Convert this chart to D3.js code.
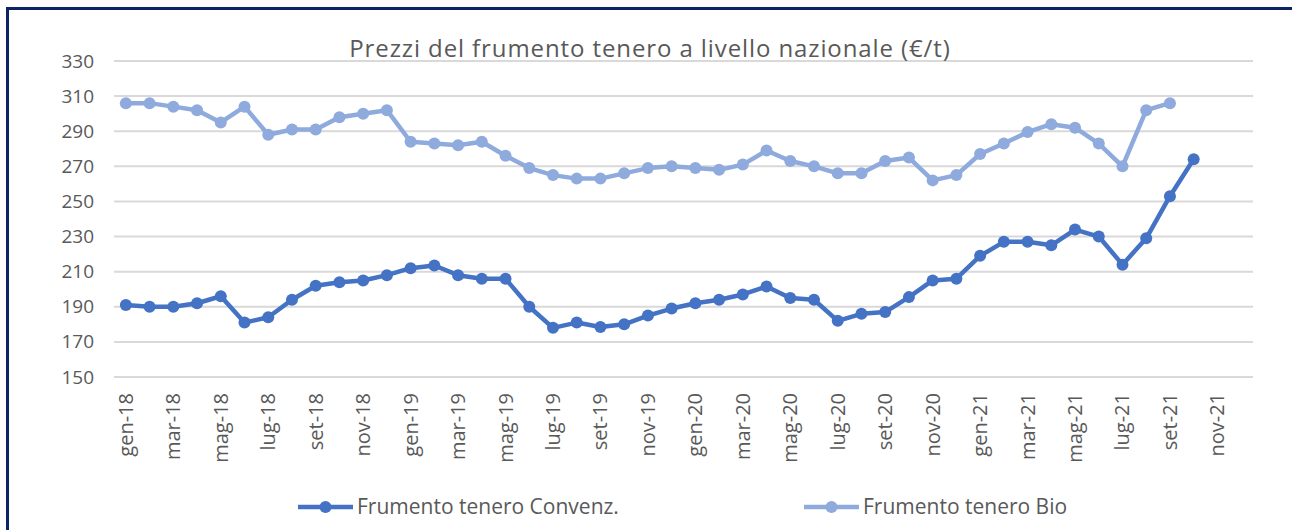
<!DOCTYPE html>
<html>
<head>
	<meta charset="utf-8">
	<title>Prezzi del frumento tenero</title>
	<script src="https://cdn.jsdelivr.net/npm/d3@7"></script>
	<style type="text/css">
		body {
			margin: 0;
			background: #ffffff;
		}
		text {
			font-family: "Open Sans", sans-serif;
			fill: #595959;
		}
	</style>
</head>
<body>
	<script type="text/javascript">
		// Months (categories) gen-18 .. dic-21
		var months = [
			"gen-18","feb-18","mar-18","apr-18","mag-18","giu-18","lug-18","ago-18","set-18","ott-18","nov-18","dic-18",
			"gen-19","feb-19","mar-19","apr-19","mag-19","giu-19","lug-19","ago-19","set-19","ott-19","nov-19","dic-19",
			"gen-20","feb-20","mar-20","apr-20","mag-20","giu-20","lug-20","ago-20","set-20","ott-20","nov-20","dic-20",
			"gen-21","feb-21","mar-21","apr-21","mag-21","giu-21","lug-21","ago-21","set-21","ott-21","nov-21","dic-21"
		];

		// Frumento tenero Convenz. (€/t)
		var convenz = [
			191, 190, 190, 192, 196, 181, 184, 194, 202, 204, 205, 208,
			212, 213.5, 208, 206, 206, 190, 178, 181, 178.5, 180, 185, 189,
			192, 194, 197, 201.5, 195, 194, 182, 186, 187, 195.5, 205, 206,
			219, 227, 227, 225, 234, 230, 214, 229, 253, 274
		];

		// Frumento tenero Bio (€/t)
		var bio = [
			306, 306, 304, 302, 295, 304, 288, 291, 291, 298, 300, 302,
			284, 283, 282, 284, 276, 269, 265, 263, 263, 266, 269, 270,
			269, 268, 271, 279, 273, 270, 266, 266, 273, 275, 262, 265,
			277, 283, 289.5, 294, 292, 283, 270, 302, 306
		];

		var yTicks = [150, 170, 190, 210, 230, 250, 270, 290, 310, 330];
		var seriesNames = ["Frumento tenero Convenz.", "Frumento tenero Bio"];
		var seriesColors = ["#4472c4", "#8faadc"];

		var width = 1292;
		var height = 530;

		var svg = d3.select("body").append("svg")
			.attr("width", width)
			.attr("height", height);

		// frame (top and left edge only are visible)
		svg.append("rect")
			.attr("x", 6).attr("y", 7)
			.attr("width", width - 6).attr("height", 3)
			.attr("fill", "#0c2461");
		svg.append("rect")
			.attr("x", 6).attr("y", 7)
			.attr("width", 3).attr("height", height - 7)
			.attr("fill", "#0c2461");

		// scales
		var xScale = d3.scaleBand()
			.domain(months)
			.range([114, 1253])
			.padding(0);
		var yScale = d3.scaleLinear()
			.domain([150, 330])
			.range([377, 61]);

		function xc(i) {
			return xScale(months[i]) + xScale.bandwidth() / 2;
		}

		// gridlines
		svg.append("g")
			.selectAll("line")
			.data(yTicks)
			.enter()
			.append("line")
			  .attr("x1", 114)
			  .attr("x2", 1253)
			  .attr("y1", function(d) { return yScale(d); })
			  .attr("y2", function(d) { return yScale(d); })
			  .attr("stroke", "#d9d9d9")
			  .attr("stroke-width", 2);

		// y axis
		var yAxis = svg.append("g")
			.attr("transform", "translate(94,0)")
			.call(d3.axisLeft(yScale).tickValues(yTicks).tickSize(0).tickPadding(0));
		yAxis.select(".domain").remove();
		yAxis.selectAll("text")
			.style("font-size", "19px")
			.style("font-family", "'Open Sans', sans-serif")
			.attr("fill", "#595959");

		// x axis
		var xAxis = svg.append("g")
			.attr("transform", "translate(0,377)")
			.call(d3.axisBottom(xScale)
				.tickValues(months.filter(function(d, i) { return i % 2 == 0; }))
				.tickSize(0));
		xAxis.select(".domain").remove();
		xAxis.selectAll("text")
			.style("font-size", "20px")
			.style("font-family", "'Open Sans', sans-serif")
			.attr("fill", "#595959")
			.attr("text-anchor", "end")
			.attr("transform", "rotate(-90)")
			.attr("x", -16)
			.attr("y", 0)
			.attr("dy", "0.35em");

		// series lines + markers
		var seriesData = [convenz, bio];
		var line = d3.line()
			.x(function(d, i) { return xc(i); })
			.y(function(d) { return yScale(d); });

		seriesData.forEach(function(values, s) {
			svg.append("path")
				.datum(values)
				.attr("d", line)
				.attr("fill", "none")
				.attr("stroke", seriesColors[s])
				.attr("stroke-width", 4.5)
				.attr("stroke-linejoin", "round");
			svg.append("g")
				.selectAll("circle")
				.data(values)
				.enter()
				.append("circle")
				  .attr("cx", function(d, i) { return xc(i); })
				  .attr("cy", function(d) { return yScale(d); })
				  .attr("r", 6)
				  .attr("fill", seriesColors[s]);
		});

		// title
		svg.append("text")
			.attr("x", 650)
			.attr("y", 57)
			.attr("text-anchor", "middle")
			.style("font-size", "24px")
			.style("letter-spacing", "0.9px")
			.text("Prezzi del frumento tenero a livello nazionale (€/t)");

		// legend
		var legendX = [298, 804];
		var legend = svg.append("g")
			.selectAll("g")
			.data(seriesNames)
			.enter()
			.append("g")
			  .attr("transform", function(d, i) { return "translate(" + legendX[i] + ",507)"; });
		legend.append("line")
			.attr("x1", 0).attr("x2", 55)
			.attr("stroke", function(d, i) { return seriesColors[i]; })
			.attr("stroke-width", 4.5);
		legend.append("circle")
			.attr("cx", 27.5)
			.attr("r", 6)
			.attr("fill", function(d, i) { return seriesColors[i]; });
		legend.append("text")
			.attr("x", 59)
			.attr("dy", "0.35em")
			.style("font-size", "21px")
			.text(function(d) { return d; });
	</script>
</body>
</html>
